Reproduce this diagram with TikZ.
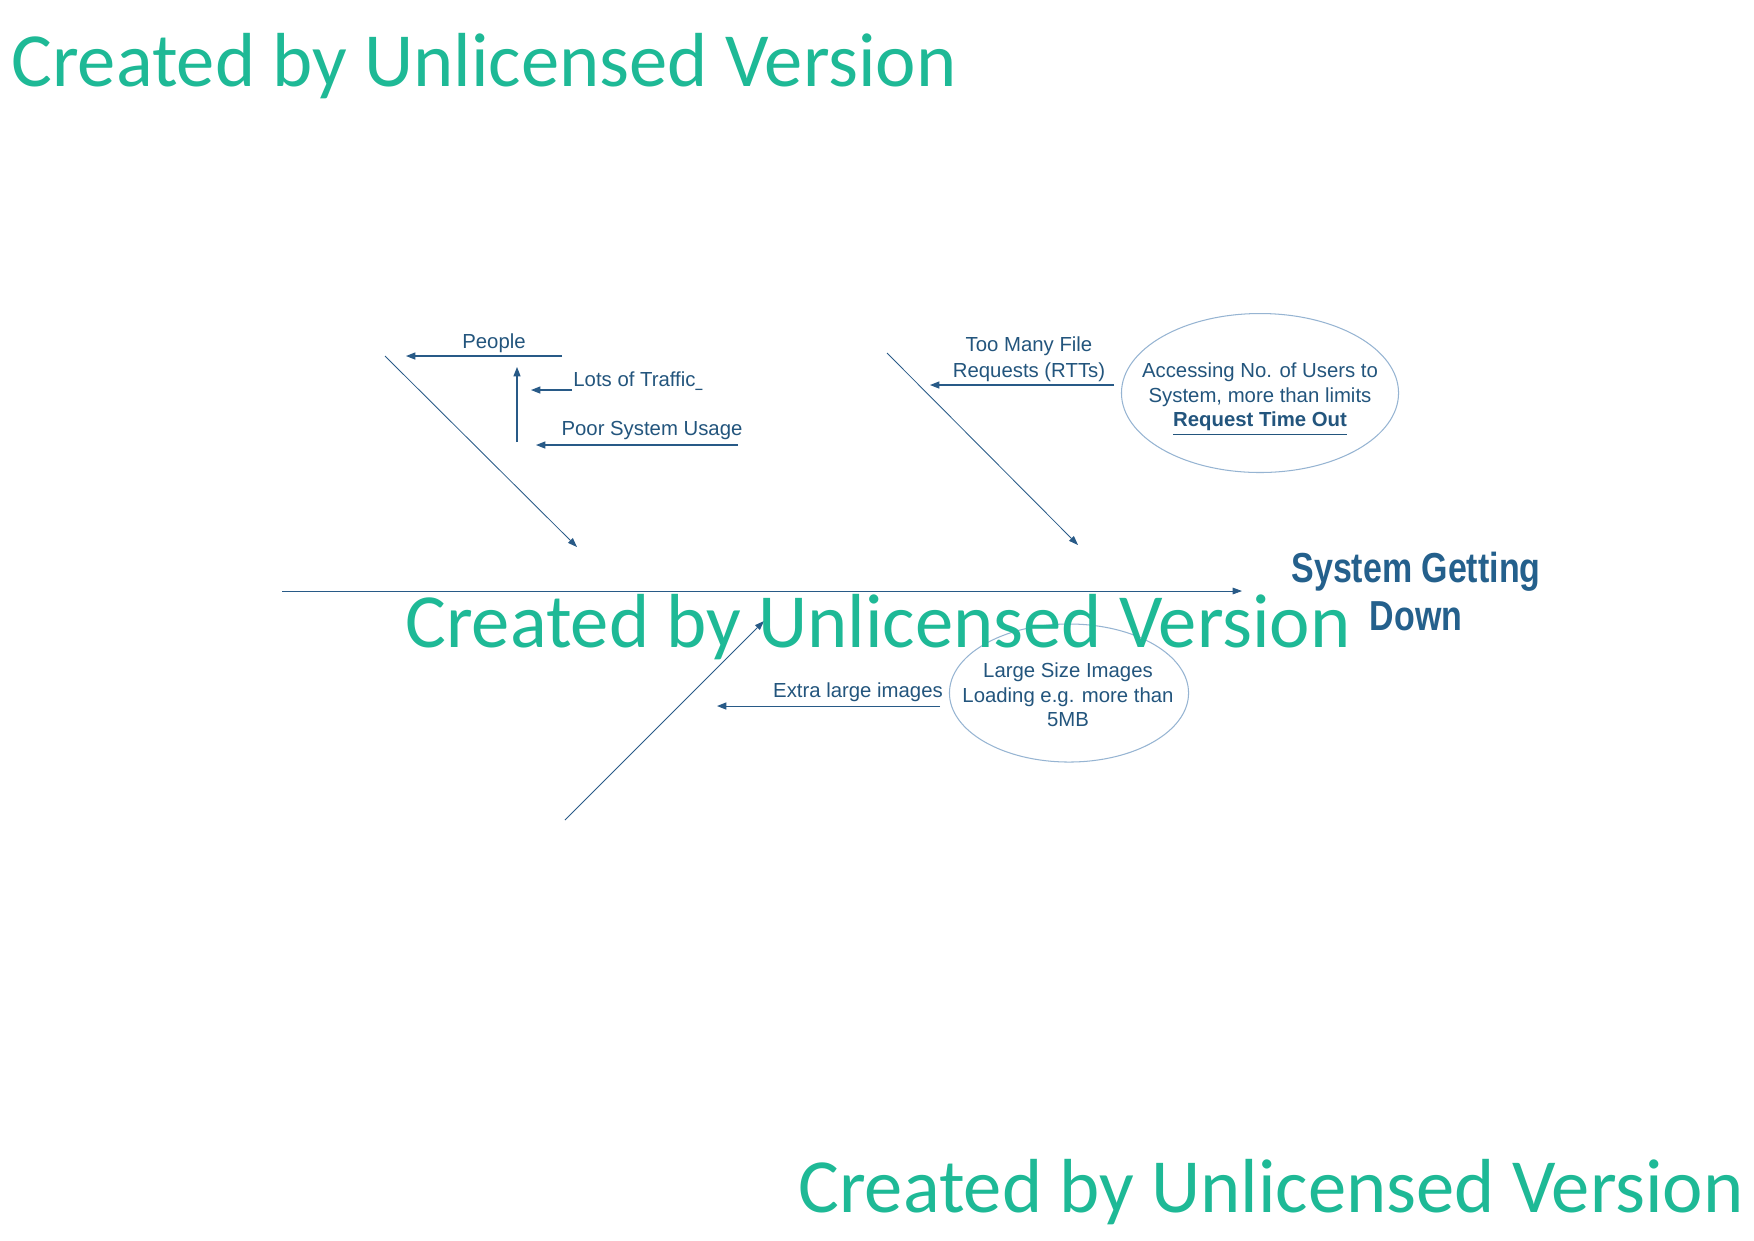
\documentclass[tikz,border=0pt]{standalone}
\usepackage{fontspec}
\setmainfont{Liberation Sans}
\newfontfamily\wmfont{Carlito}
\usepackage{graphicx}
\usetikzlibrary{arrows.meta,shapes.geometric}
\definecolor{bonecol}{RGB}{40,90,135}
\definecolor{txtcol}{RGB}{35,85,125}
\definecolor{headcol}{RGB}{36,96,140}
\definecolor{ellcol}{RGB}{150,180,210}
\definecolor{wmcol}{RGB}{30,185,150}
\tikzset{
  bone/.style={draw=bonecol, line width=0.4pt, -{Triangle[length=4.5pt,width=3.2pt]}},
  subarrow/.style={draw=bonecol, line width=0.5pt, -{Triangle[length=4.5pt,width=3.4pt]}},
  lbl/.style={text=txtcol, font=\fontsize{9.8}{12}\selectfont, inner sep=0pt, anchor=base},
  elltext/.style={text=txtcol, font=\fontsize{9.8}{11.9}\selectfont, inner sep=0pt, align=center},
  cause/.style={draw=ellcol, line width=0.5pt, ellipse, inner sep=0pt},
  wm/.style={text=wmcol, font=\wmfont\fontsize{36.9}{40}\selectfont, inner sep=0pt, anchor=base west},
  head/.style={text=headcol, font=\bfseries\fontsize{20.2}{23}\selectfont, inner sep=0pt, anchor=base}
}
\begin{document}
\begin{tikzpicture}[x=0.4818pt,y=-0.4818pt]
\useasboundingbox[fill=white] (0,0) rectangle (1754,1240);
% spine
\coordinate (spineS) at (282,591);
\coordinate (spineE) at (1242,591);
\draw[bone] (spineS) -- (spineE);
% bones
\coordinate (b1s) at (385,356); \coordinate (b1e) at (577,547);
\coordinate (b2s) at (887,353); \coordinate (b2e) at (1078,545);
\coordinate (b3s) at (565,820); \coordinate (b3e) at (764,621);
\draw[bone] (b1s) -- (b1e);
\draw[bone] (b2s) -- (b2e);
\draw[bone] (b3s) -- (b3e);
% head
\node[head] (head1) at (1416,582) {\scalebox{0.81}[1]{System Getting}};
\node[head] (head2) at (1416,630) {\scalebox{0.81}[1]{Down}};
% People branch
\coordinate (pS) at (562,356); \coordinate (pE) at (406,356);
\draw[subarrow] (pS) -- (pE);
\node[lbl] (people) at (494,348) {People};
\coordinate (vS) at (517,442); \coordinate (vE) at (517,367);
\draw[subarrow] (vS) -- (vE);
\coordinate (ltS) at (572,390); \coordinate (ltE) at (531,390);
\draw[subarrow] (ltS) -- (ltE);
\node[lbl, anchor=base west] (traffic) at (573,386) {Lots of Traffic\scalebox{0.6}[1]{\_}};
\coordinate (psS) at (738,445); \coordinate (psE) at (536,445);
\draw[subarrow] (psS) -- (psE);
\node[lbl] (poor) at (652,435) {Poor System Usage};
% Too many file requests
\node[cause, minimum width=133.5pt, minimum height=76.6pt] (ell1) at (1260,393) {};
\node[elltext] (ell1t) at (1260,399) {Accessing No. of Users to\\System, more than limits\\\textbf{\underline{Request Time Out}}};
\coordinate (tmS) at (1114,385);
\coordinate (tmE) at (930,385);
\draw[subarrow] (tmS) -- (tmE);
\node[lbl] (tm1) at (1029,351) {Too Many File};
\node[lbl] (tm2) at (1029,377) {Requests (RTTs)};
% Large images
\node[cause, minimum width=115.2pt, minimum height=66.5pt] (ell2) at (1069,693) {};
\node[elltext] (ell2t) at (1068,695) {Large Size Images\\Loading e.g. more than\\5MB};
\coordinate (exS) at (940,706);
\coordinate (exE) at (717,706);
\draw[subarrow] (exS) -- (exE);
\node[lbl] (extra) at (858,697) {Extra large images};
% watermarks
\node[wm] (wm1) at (11,86) {Created by Unlicensed Version};
\node[wm] (wm2) at (405,647) {Created by Unlicensed Version};
\node[wm] (wm3) at (798,1212) {Created by Unlicensed Version};
\end{tikzpicture}
\end{document}
